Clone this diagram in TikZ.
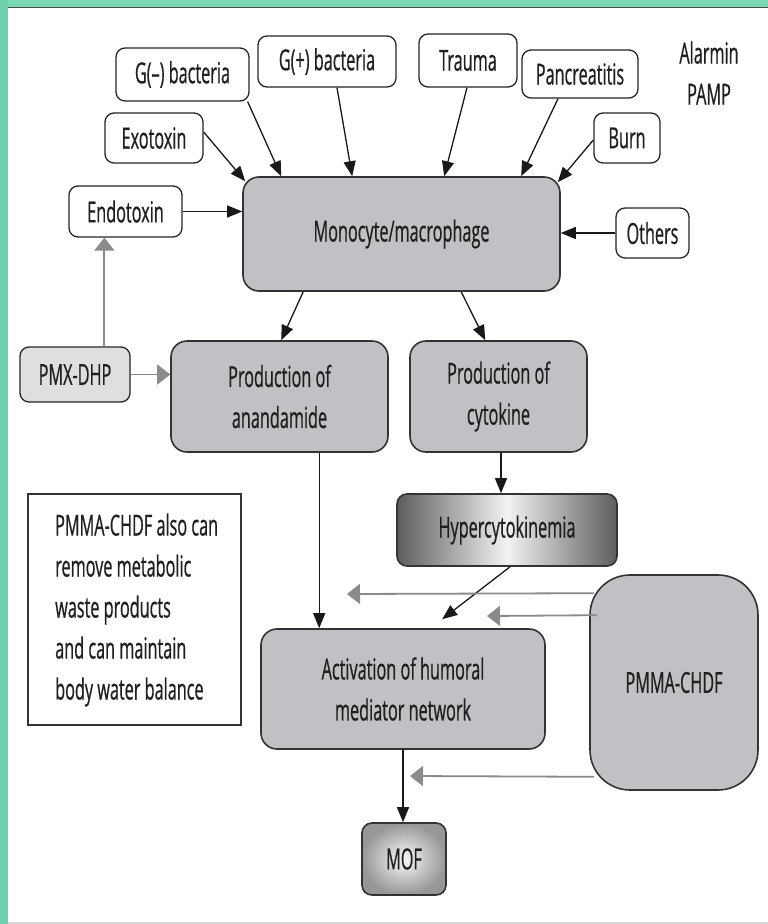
\documentclass[tikz,border=0pt]{standalone}
\usepackage{fontspec}
\setmainfont[FakeStretch=0.56,FakeBold=0.6]{Open Sans}
\usetikzlibrary{arrows.meta,calc}
\definecolor{boxgray}{RGB}{192,193,196}
\definecolor{pmxgray}{RGB}{222,223,225}
\definecolor{arrgray}{RGB}{138,139,141}
\definecolor{mint}{RGB}{122,216,178}
\definecolor{darkg}{RGB}{92,93,95}
\definecolor{mofg}{RGB}{150,151,153}
\definecolor{inktext}{RGB}{35,31,32}
\tikzset{
 txt/.style={font=\fontsize{29}{41}\selectfont, text=inktext, align=center},
 wbox/.style={txt, draw=black!85, line width=1.3pt, rounded corners=9pt, fill=white, inner sep=0pt},
 gbox/.style={txt, draw=black!80, line width=1.6pt, rounded corners=16pt, fill=boxgray, inner sep=0pt},
 blk/.style={-{Triangle[length=15pt,width=12pt]}, line width=1.3pt, draw=black!90, color=black!90},
 gry/.style={-{Triangle[length=13pt,width=20pt]}, line width=1.8pt, color=arrgray},
}
\begin{document}
\begin{tikzpicture}[x=1pt,y=-1pt]
\useasboundingbox (0,0) rectangle (768,924);
\fill[white] (0,0) rectangle (768,924);
\fill[mint] (0,0) rectangle (768,7);
\fill[mint!90!teal] (0,0) rectangle (8,924);
\draw[black!70, line width=1.2pt] (8,7.5) -- (768,7.5);
\draw[black!15, line width=2pt] (8,923) -- (768,923);

% top input boxes
\node[wbox, minimum width=133, minimum height=53] (gneg) at (182.5,74.5) {G(–) bacteria};
\node[wbox, minimum width=138, minimum height=51] (gpos) at (327,61.5) {G(+) bacteria};
\node[wbox, minimum width=98, minimum height=53] (trauma) at (468,60.5) {Trauma};
\node[wbox, minimum width=116, minimum height=48] (panc) at (580,74) {Pancreatitis};
\node[txt] (alarm) at (709,73) {Alarmin\\PAMP};
\node[wbox, minimum width=98, minimum height=50] (exo) at (154,138) {Exotoxin};
\node[wbox, minimum width=66, minimum height=50] (burn) at (627,138) {Burn};
\node[wbox, minimum width=113, minimum height=51] (endo) at (125.5,211.5) {Endotoxin};
\node[wbox, minimum width=73, minimum height=50] (others) at (652.5,233) {Others};

% main boxes
\node[gbox, minimum width=317, minimum height=114] (mono) at (401.5,234) {Monocyte/macrophage};
\node[wbox, fill=pmxgray, minimum width=110, minimum height=55] (pmx) at (75,374.5) {PMX-DHP};
\node[gbox, minimum width=217, minimum height=111] (anand) at (279.5,396.5) {Production of\\anandamide};
\node[gbox, minimum width=177, minimum height=111] (cyto) at (498.5,396.5) {Production of\\cytokine};
\node[gbox, left color=darkg, right color=darkg, middle color=white!95!black, minimum width=220, minimum height=72, rounded corners=10pt] (hyper) at (507,530) {Hypercytokinemia};
\node[draw=black!80, line width=1.2pt, fill=white, minimum width=213, minimum height=231, inner sep=0pt] (note) at (134.5,609.5) {};
\node[txt, align=left, anchor=west, inner sep=0pt] (notetxt) at (55,610) {PMMA-CHDF also can\\remove metabolic\\waste products\\and can maintain\\body water balance};
\node[gbox, minimum width=168, minimum height=215, rounded corners=40pt] (pmma) at (674,682.5) {PMMA-CHDF};
\node[gbox, inner color=white!97!black, outer color=mofg, minimum width=84, minimum height=72, rounded corners=10pt] (mof) at (404,859) {MOF};
\node[gbox, minimum width=284, minimum height=120] (act) at (403,689) {Activation of humoral\\mediator network};

% black connectors into monocyte
\draw[blk] ($(gneg.south east)+(-2,0)$) -- ($(mono.north west)+(39,0)$);
\draw[blk] ($(gpos.south)+(10,0)$) -- ($(mono.north west)+(110,0)$);
\draw[blk] ($(trauma.south)+(-1,0)$) -- ($(mono.north west)+(202,0)$);
\draw[blk] ($(panc.south)+(-22,0)$) -- ($(mono.north west)+(279,0)$);
\draw[blk] ($(burn.west)+(0,2)$) -- ($(mono.north east)+(-3,6)$);
\draw[blk] ($(exo.east)+(0,-6)$) -- ($(mono.north west)+(3,5)$);
\draw[blk] (endo.east) -- (mono.west |- endo.east);
\draw[blk] (others.west) -- (mono.east |- others.west);

% from monocyte
\draw[blk] ($(mono.south west)+(61,0)$) -- ($(anand.north west)+(111,0)$);
\draw[blk] ($(mono.south west)+(219,0)$) -- ($(cyto.north west)+(76,0)$);

% lower chain
\coordinate (a1) at ($(anand.south west)+(149,0)$);
\draw[blk] (a1) -- (a1 |- act.north);
\coordinate (c1) at ($(cyto.south)+(2.5,0)$);
\draw[blk] (c1) -- (c1 |- hyper.north);
\coordinate (ht) at ($(act.north west)+(182,-9)$);
\draw[blk] ($(hyper.south)+(3,0)$) -- (ht);
\draw[blk] (act.south) -- (act.south |- mof.north);

% gray connectors
\coordinate (p1) at ($(pmx.north west)+(85,0)$);
\draw[gry] (p1) -- (p1 |- endo.south);
\draw[gry] (pmx.east) -- (anand.west |- pmx.east);
\coordinate (g1) at (347,594);
\coordinate (g2) at (487,616);
\coordinate (g3) at (410,776);
\draw[gry] ($(pmma.north west)+(5,19)$) -- (g1);
\draw[gry] ($(pmma.north west)+(8,41)$) -- (g2);
\draw[gry] ($(pmma.south west)+(5,-14)$) -- (g3);
\end{tikzpicture}
\end{document}
